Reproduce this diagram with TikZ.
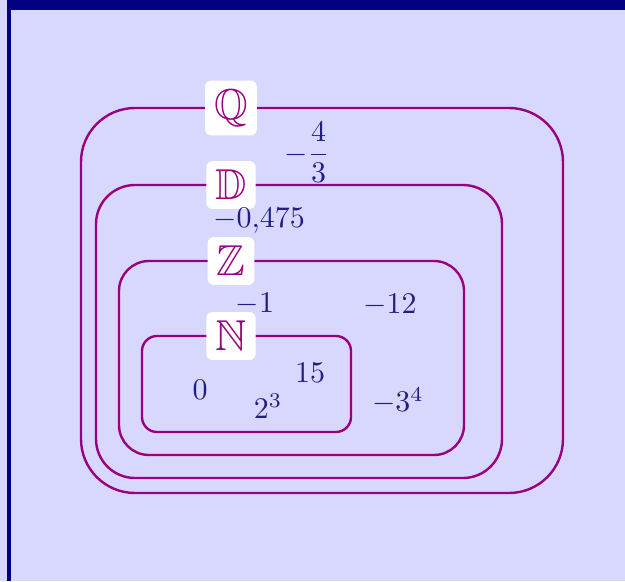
\documentclass[tikz,border=0pt]{standalone}
\usepackage{amsmath,amssymb}
\definecolor{bgl}{HTML}{D8D8FF}
\definecolor{navyb}{HTML}{000080}
\definecolor{setc}{HTML}{990080}
\definecolor{numc}{HTML}{221E84}
\begin{document}
\begin{tikzpicture}[x=0.33333pt,y=-0.33333pt,
  setbox/.style={draw=setc,line width=0.8pt},
  lbl/.style={fill=white,text=setc,rounded corners=2pt,inner sep=3pt,font=\Large},
  num/.style={text=numc,inner sep=0pt}]
\fill[bgl] (0,0) rectangle (625,581);
\useasboundingbox (0,0) rectangle (625,581);
\fill[navyb] (7,0) rectangle (625,10);
\fill[navyb] (7,0) rectangle (10.5,581);
% sets
\draw[setbox,rounded corners=18pt] (81,108) rectangle (563,493);
\draw[setbox,rounded corners=13pt] (96,185) rectangle (502,478);
\draw[setbox,rounded corners=10pt] (119,261) rectangle (464,455);
\draw[setbox,rounded corners=5pt] (142,336) rectangle (351,432);
% labels
\node[lbl] (Q) at (231,108) {$\mathbb{Q}$};
\node[lbl] (D) at (231,185) {$\mathbb{D}$};
\node[lbl] (Z) at (231,261) {$\mathbb{Z}$};
\node[lbl] (N) at (231,336) {$\mathbb{N}$};
% numbers
\node[num] (q1) at (307,152.5) {$-\dfrac{4}{3}$};
\node[num] (d1) at (259,220.5) {$-0{,}475$};
\node[num] (z1) at (255,304) {$-1$};
\node[num] (z2) at (390,305) {$-12$};
\node[num] (z3) at (398,401) {$-3^4$};
\node[num] (n1) at (200,390) {$0$};
\node[num] (n2) at (310,373) {$15$};
\node[num] (n3) at (268,406) {$2^3$};
\end{tikzpicture}
\end{document}
